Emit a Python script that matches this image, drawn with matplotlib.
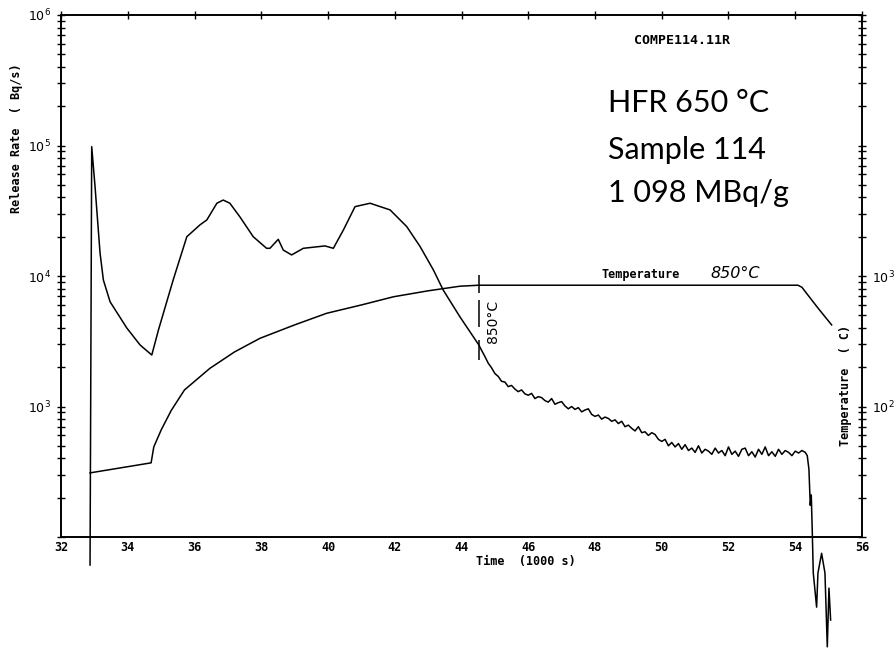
import matplotlib.pyplot as plt
from matplotlib.ticker import FixedLocator, LogLocator, FuncFormatter, NullFormatter

plt.rcParams['mathtext.fontset'] = 'custom'
plt.rcParams['mathtext.rm'] = 'DejaVu Sans Mono:bold'

# release rate (Bq/s) against time (1000 s)
t_rel = [32.87, 32.92, 33.02, 33.17, 33.27, 33.47, 33.97, 34.37, 34.72, 34.92,
         35.36, 35.77, 36.16, 36.37, 36.67, 36.86, 37.06, 37.36, 37.76, 38.16,
         38.26, 38.51, 38.66, 38.91, 39.26, 39.91, 40.16, 40.46, 40.81, 41.26,
         41.86, 42.36, 42.76, 43.16, 43.45, 43.95, 44.52,
         44.6, 44.7, 44.8, 44.9, 45.0, 45.1, 45.2, 45.3, 45.4, 45.5,
         45.6, 45.7, 45.8, 45.9, 46.0, 46.1, 46.2, 46.3, 46.4, 46.5,
         46.6, 46.7, 46.8, 46.9, 47.0, 47.1, 47.2, 47.3, 47.4, 47.5,
         47.6, 47.7, 47.8, 47.9, 48.0, 48.1, 48.2, 48.3, 48.4, 48.5,
         48.6, 48.7, 48.8, 48.9, 49.0, 49.1, 49.2, 49.3, 49.4, 49.5,
         49.6, 49.7, 49.8, 49.9, 50.0, 50.1, 50.2, 50.3, 50.4, 50.5,
         50.6, 50.7, 50.8, 50.9, 51.0, 51.1, 51.2, 51.3, 51.4, 51.5,
         51.6, 51.7, 51.8, 51.9, 52.0, 52.1, 52.2, 52.3, 52.4, 52.5,
         52.6, 52.7, 52.8, 52.9, 53.0, 53.1, 53.2, 53.3, 53.4, 53.5,
         53.6, 53.7, 53.8, 53.9, 54.0, 54.1, 54.2, 54.3, 54.36, 54.41,
         54.45, 54.48, 54.51, 54.54, 54.64, 54.68, 54.79, 54.89, 54.96, 55.01,
         55.06]
rate = [61, 98000, 48400, 15000, 9310, 6350, 4000, 2960, 2480, 3860,
        9310, 20000, 24600, 26900, 36100, 38200, 36100, 28400, 20000, 16300,
        16300, 19100, 15800, 14500, 16300, 17000, 16300, 22500, 34000, 36100,
        32100, 23900, 16800, 11100, 7820, 4880, 2960,
        2700, 2420, 2150, 1980, 1790, 1700, 1560, 1540, 1420, 1450,
        1360, 1300, 1340, 1250, 1220, 1260, 1150, 1190, 1170, 1110,
        1080, 1150, 1040, 1070, 1090, 1010, 960, 1000, 950, 980,
        910, 940, 960, 870, 840, 860, 800, 830, 810, 770,
        790, 740, 770, 700, 720, 680, 650, 700, 630, 640,
        600, 630, 610, 560, 540, 560, 500, 530, 490, 520,
        470, 510, 460, 480, 445, 500, 440, 470, 455, 430,
        480, 440, 460, 420, 490, 430, 455, 415, 470, 480,
        420, 450, 410, 470, 430, 490, 420, 450, 415, 470,
        430, 460, 445, 420, 455, 440, 460, 445, 420, 330,
        175, 210, 110, 53, 29, 53, 75, 53, 14.4, 40.6,
        23.1]

# furnace temperature (C)
t_temp = [32.87, 34.70, 34.78, 35.0, 35.3, 35.7, 36.46, 37.2, 37.96, 39.0,
          39.96, 41.0, 41.96, 43.0, 43.95, 44.52, 54.08, 54.2, 54.34, 54.7, 55.09]
temp = [31, 37, 49, 66, 93, 134, 196, 262, 333, 422,
        518, 600, 693, 770, 835, 850, 850, 820, 736, 560, 422]

t_850 = 44.52
marker_segs = [(1020, 741), (655, 406), (324, 227)]

xticks = list(range(32, 57, 2))

mono = dict(family='DejaVu Sans Mono', fontweight='bold', fontsize=8.5)

W, H = 895, 648
fig = plt.figure(figsize=(W / 100, H / 100), dpi=100)
ax = fig.add_axes([61 / W, 1 - 537 / H, 801 / W, 522 / H])
ax2 = ax.twinx()

ax.plot(t_rel, rate, color='black', lw=1.1, clip_on=False)
ax2.plot(t_temp, temp, color='black', lw=1.1)
for top, bot in marker_segs:
    ax2.vlines(t_850, bot, top, color='black', lw=1.1)

ax.set_xlim(32, 56)
ax.set_yscale('log')
ax.set_ylim(1e2, 1e6)
ax2.set_yscale('log')
ax2.set_ylim(1e1, 1e5)


def sci_label(shown):
    def fmt(v, pos):
        for e in shown:
            if abs(v - 10.0 ** e) < 1e-6 * 10.0 ** e:
                return r'$\mathregular{10^{%d}}$' % e
        return ''
    return FuncFormatter(fmt)


ax.yaxis.set_major_locator(LogLocator(base=10, numticks=10))
ax.yaxis.set_minor_locator(LogLocator(base=10, subs=range(2, 10), numticks=20))
ax.yaxis.set_major_formatter(sci_label([3, 4, 5, 6]))
ax.yaxis.set_minor_formatter(NullFormatter())
ax2.yaxis.set_major_locator(LogLocator(base=10, numticks=10))
ax2.yaxis.set_minor_locator(LogLocator(base=10, subs=range(2, 10), numticks=20))
ax2.yaxis.set_major_formatter(sci_label([2, 3]))
ax2.yaxis.set_minor_formatter(NullFormatter())

ax.xaxis.set_major_locator(FixedLocator(xticks))
ax.set_xticklabels([str(v) for v in xticks], **mono)

for a in (ax, ax2):
    a.tick_params(axis='y', which='both', direction='inout', length=6, width=1,
                  labelsize=9, pad=4, colors='black')
    for s in a.spines.values():
        s.set_linewidth(1.2)
# labels below, tick crosses only along the top edge
ax.tick_params(axis='x', which='both', length=0, pad=3)
ax2.xaxis.set_visible(True)
ax2.tick_params(axis='x', which='both', top=True, bottom=False, labelbottom=False,
                labeltop=False, direction='inout', length=6, width=1)

# axis titles in plotter lettering
fig.text(17 / W, 1 - 138 / H, 'Release Rate  ( Bq/s)', rotation=90,
         ha='center', va='center', **mono)
fig.text(846 / W, 1 - 385 / H, 'Temperature  ( C)', rotation=90,
         ha='center', va='center', **mono)
fig.text(526 / W, 1 - 561 / H, 'Time  (1000 s)', ha='center', va='center', **mono)
fig.text(682 / W, 1 - 41 / H, 'COMPE114.11R', ha='center', va='center',
         family='DejaVu Sans Mono', fontweight='bold', fontsize=9.5)

ax2.text(49.38, 1035, 'Temperature', ha='center', va='center', **mono)
ax2.text(52.19, 1040, '850°C', ha='center', va='center', family='DejaVu Sans',
         style='italic', fontsize=11.5)
ax2.text(44.93, 445, '850°C', ha='center', va='center', rotation=90,
         family='DejaVu Sans', fontsize=10)

# sample description
for y, s in [(103, 'HFR 650 °C'), (150, 'Sample 114'), (193, '1 098 MBq/g')]:
    fig.text(608 / W, 1 - y / H, s, ha='left', va='center', family='Lato', fontsize=22)

fig.savefig('out.png', dpi=100)
